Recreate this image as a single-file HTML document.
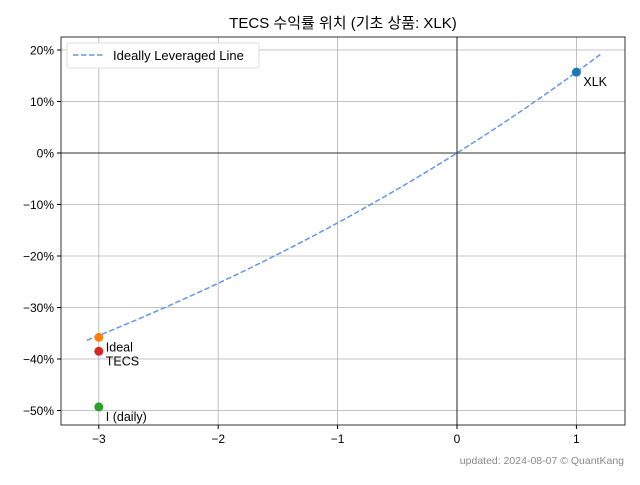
<!DOCTYPE html>
<html><head><meta charset="utf-8"><style>
body{margin:0;background:#fff;}
svg{font-family:"Liberation Sans","Noto Sans CJK KR",sans-serif;}
</style></head><body>
<svg id="chart" width="640" height="480" xmlns="http://www.w3.org/2000/svg">
<text x="343" y="28" text-anchor="middle" font-size="15" fill="#000">TECS 수익률 위치 (기초 상품: XLK)</text>
<g id="grid"></g>
<g id="axes"></g>
<g id="series"></g>
<g>
<rect x="67" y="43" width="192" height="25" fill="#fff" stroke="#ddd" rx="2"/>
<line x1="73" y1="55" x2="103" y2="55" stroke="#6495ed" stroke-width="1.5" stroke-dasharray="5.5,2.5"/>
<text x="113" y="60" font-size="13">Ideally Leveraged Line</text>
</g>
<text x="624" y="464" text-anchor="end" font-size="10.5" fill="#888">updated: 2024-08-07 © QuantKang</text>
</svg>
<script>
const xTicks=[-3,-2,-1,0,1];
const yTicks=[20,10,0,-10,-20,-30,-40,-50];
const pointLabels=["XLK","Ideal","TECS","I (daily)"];
const pointX=[1,-3,-3,-3];
const pointY=[15.7,-35.8,-38.5,-49.3];
const pointColors=["#1f77b4","#ff7f0e","#d62728","#2ca02c"];
const baseReturn=15.7;
const curveRange=[-3.1,1.2];
const L=61,R=625,T=37,B=425;
function xs(v){return 457+v*119.4;}
function ys(v){return 153-v*5.15;}
const NS="http://www.w3.org/2000/svg";
function mk(tag,attrs,parent){const e=document.createElementNS(NS,tag);for(const k in attrs)e.setAttribute(k,attrs[k]);parent.appendChild(e);return e;}
const grid=document.getElementById('grid'),axes=document.getElementById('axes'),ser=document.getElementById('series');
xTicks.forEach(t=>{const x=xs(t);
 const g=mk('line',{x1:x,x2:x,y1:T,y2:B,stroke:'#b0b0b0','stroke-width':0.8},grid);
 
 
 mk('line',{x1:x,x2:x,y1:B,y2:B+4,stroke:'#000'},axes);
 const tx=mk('text',{x:x,y:B+18,'text-anchor':'middle','font-size':12},axes);tx.textContent=(t<0?'−'+(-t):t);
 
 });
yTicks.forEach(t=>{const y=ys(t);
 const g=mk('line',{x1:L,x2:R,y1:y,y2:y,stroke:'#b0b0b0','stroke-width':0.8},grid);
 
 
 mk('line',{x1:L-4,x2:L,y1:y,y2:y,stroke:'#000'},axes);
 const tx=mk('text',{x:L-7,y:y+4.5,'text-anchor':'end','font-size':12},axes);tx.textContent=(t<0?'−'+(-t):t)+'%';
 
 });
const z1=mk('line',{x1:L,x2:R,y1:ys(0),y2:ys(0),stroke:'#000','stroke-width':0.8},axes);


const z2=mk('line',{x1:xs(0),x2:xs(0),y1:T,y2:B,stroke:'#000','stroke-width':0.8},axes);


const fr=mk('rect',{x:L,y:T,width:R-L,height:B-T,fill:'none',stroke:'#000','stroke-width':0.8},axes);


let d='';for(let i=0;i<=100;i++){const x=curveRange[0]+(curveRange[1]-curveRange[0])*i/100;const y=(Math.pow(1+baseReturn/100,x)-1)*100;d+=(i?'L':'M')+xs(x).toFixed(1)+','+ys(y).toFixed(1);}
const c=mk('path',{d:d,fill:'none',stroke:'#6495ed','stroke-width':1.5,'stroke-dasharray':'5.5,2.5'},ser);


pointX.forEach((px,i)=>{
 const p=mk('circle',{cx:xs(px),cy:ys(pointY[i]),r:4.5,fill:pointColors[i]},ser);
 
 
 const t=mk('text',{x:xs(px)+7,y:ys(pointY[i])+14,'font-size':12.5},ser);t.textContent=pointLabels[i];
 
 
});
</script>
</body></html>
